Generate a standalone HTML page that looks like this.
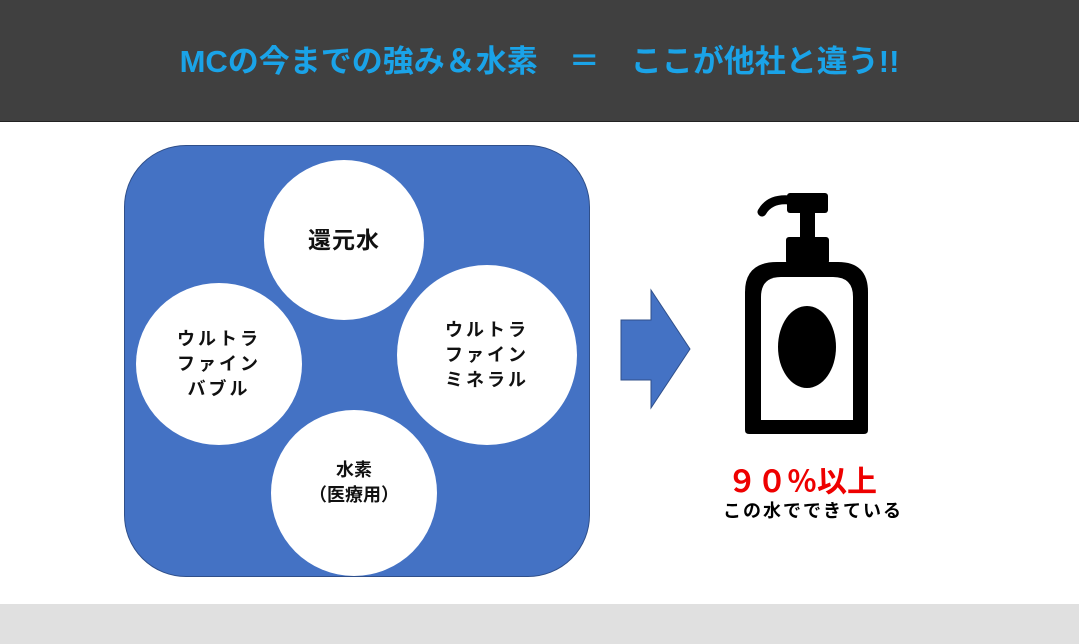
<!DOCTYPE html>
<html><head><meta charset="utf-8"><style>
body{margin:0;width:1079px;height:644px;background:#fff;position:relative;overflow:hidden;font-family:"Liberation Sans","Noto Sans CJK JP",sans-serif;}
.hdr{position:absolute;left:0;top:0;width:1079px;height:121px;background:#404040;border-bottom:1px solid #222;}
.title{position:absolute;left:0;width:1079px;top:36px;text-align:center;color:#1aa3e8;font-weight:bold;font-size:31px;white-space:pre;}
.foot{position:absolute;left:0;top:604px;width:1079px;height:40px;background:#e0e0e0;}
.box{position:absolute;left:124px;top:145px;width:464px;height:430px;background:#4472c4;border:1px solid #2f4f8a;border-radius:62px;}
.c{position:absolute;background:#fff;border-radius:50%;display:flex;align-items:center;justify-content:center;text-align:center;font-weight:bold;color:#111;font-size:18px;line-height:25px;letter-spacing:3px;}
</style></head><body>
<div class="hdr"><div class="title">MCの今までの強み＆水素　＝　ここが他社と違う!!</div></div>
<div class="box"></div>
<div class="c" style="left:264px;top:160px;width:160px;height:160px;font-size:23px;letter-spacing:1px;">還元水</div>
<div class="c" style="left:136px;top:283px;width:166px;height:162px;">ウルトラ<br>ファイン<br>バブル</div>
<div class="c" style="left:397px;top:265px;width:180px;height:180px;">ウルトラ<br>ファイン<br>ミネラル</div>
<div class="c" style="left:271px;top:410px;width:166px;height:166px;letter-spacing:0;"><div style="margin-top:-20px">水素<br>（医療用）</div></div>
<svg style="position:absolute;left:0;top:0" width="1079" height="644">
<polygon points="621,320 651,320 651,290 690,349 651,408 651,380 621,380" fill="#4472c4" stroke="#2f4f8a" stroke-width="1"/>
<rect x="787" y="193" width="41" height="20" rx="3" fill="#000"/>
<path d="M790,200 Q770,198 762,212" stroke="#000" stroke-width="9" fill="none" stroke-linecap="round"/>
<rect x="800" y="210" width="15" height="30" fill="#000"/>
<rect x="786" y="237" width="43" height="27" rx="3" fill="#000"/>
<path d="M777,262 H838 Q868,262 868,292 V430 Q868,434 864,434 H749 Q745,434 745,430 V292 Q745,262 777,262 Z" fill="#000"/>
<path d="M781,277 H833 Q853,277 853,297 V420 H761 V297 Q761,277 781,277 Z" fill="#fff"/>
<ellipse cx="807" cy="347" rx="29" ry="41" fill="#000"/>
</svg>
<div style="position:absolute;left:727px;top:457px;color:#e00;font-weight:bold;font-size:30px;white-space:nowrap;">９０％以上</div>
<div style="position:absolute;left:723px;top:497px;color:#000;font-weight:bold;font-size:18px;white-space:nowrap;letter-spacing:2px;">この水でできている</div>
<div class="foot"></div>
</body></html>
